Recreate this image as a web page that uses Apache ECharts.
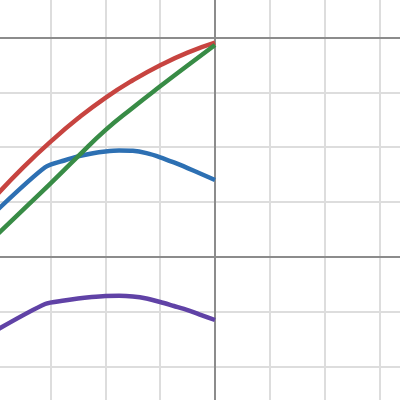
<!DOCTYPE html>
<html>
<head>
<meta charset="utf-8">
<script src="https://cdn.jsdelivr.net/npm/echarts@6/dist/echarts.min.js"></script>
<style>html,body{margin:0;padding:0;background:#fff}#c{width:400px;height:400px}</style>
</head>
<body>
<div id="c"></div>
<script>
var xsA = [-4, -3.5, -3, -2.5, -2, -1.5, -1, -0.5, 0];
var redY = [1.11, 1.63, 2.10, 2.525, 2.90, 3.22, 3.495, 3.725, 3.906];
var greenY = [0.38, 0.86, 1.34, 1.83, 2.31, 2.72, 3.11, 3.49, 3.865];
var xsB = [-4, -3.1, -2.75, -2.5, -2.25, -2, -1.75, -1.5, -1.25, -1, -0.75, -0.5, -0.25, 0];
var blueY = [0.826, 1.632, 1.756, 1.832, 1.884, 1.920, 1.938, 1.933, 1.89, 1.815, 1.72, 1.617, 1.51, 1.40];
var purpleY = [-1.347, -0.863, -0.80, -0.763, -0.736, -0.717, -0.714, -0.726, -0.763, -0.827, -0.90, -0.973, -1.064, -1.155];
var gridX = [-3, -2, -1, 1, 2, 3];
var gridY = [-2, -1, 1, 2, 3];
var darkX = [0];
var darkY = [0, 4];

function pts(xs, ys) { return xs.map(function (x, i) { return [x, ys[i]]; }); }
function markData(xs, ys) {
  return xs.map(function (v) { return { xAxis: v }; }).concat(ys.map(function (v) { return { yAxis: v }; }));
}
function guideSeries(xs, ys, color, width, z) {
  return {
    type: 'line', data: [], silent: true, animation: false, z: z,
    markLine: {
      silent: true, symbol: ['none', 'none'], label: { show: false }, animation: false,
      lineStyle: { color: color, width: width, type: 'solid' }, emphasis: { disabled: true },
      data: markData(xs, ys)
    }
  };
}
function lineSeries(name, xs, ys, color, smooth) {
  return {
    name: name, type: 'line', data: pts(xs, ys), showSymbol: false, symbol: 'none', z: 5,
    smooth: smooth, lineStyle: { color: color, width: 4.5, cap: 'butt' }, silent: true, animation: false
  };
}

var chart = echarts.init(document.getElementById('c'));
chart.setOption({
  animation: false,
  grid: { left: 0, right: 0, top: 0, bottom: 0, containLabel: false },
  xAxis: {
    type: 'value', min: -3.924, max: 3.377,
    axisLine: { show: false }, axisTick: { show: false }, axisLabel: { show: false }, splitLine: { show: false }
  },
  yAxis: {
    type: 'value', min: -2.615, max: 4.685,
    axisLine: { show: false }, axisTick: { show: false }, axisLabel: { show: false }, splitLine: { show: false }
  },
  series: [
    guideSeries(gridX, gridY, '#dddddd', 2, 1),
    guideSeries(darkX, darkY, '#8c8c8c', 2, 2),
    lineSeries('red', xsA, redY, '#c74440', true),
    lineSeries('blue', xsB, blueY, '#2d70b3', 0.25),
    lineSeries('green', xsA, greenY, '#388c46', true),
    lineSeries('purple', xsB, purpleY, '#6042a6', 0.25)
  ]
});
</script>
</body>
</html>
